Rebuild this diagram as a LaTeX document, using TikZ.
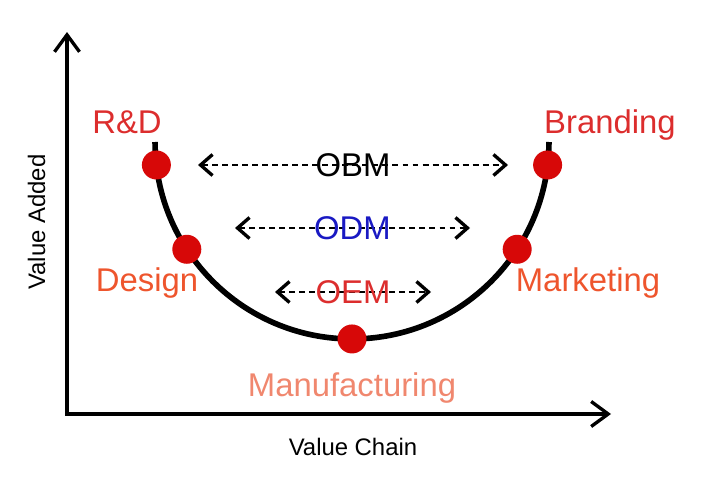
\documentclass[tikz,border=0pt]{standalone}
\usepackage{fontspec}
\setmainfont{Liberation Sans}
\usetikzlibrary{arrows.meta,calc}
\definecolor{dotred}{RGB}{215,8,8}
\definecolor{lblred}{RGB}{220,45,45}
\definecolor{lblorange}{RGB}{238,85,45}
\definecolor{lblsalmon}{RGB}{240,135,110}
\definecolor{odmblue}{RGB}{25,25,195}

\begin{document}
\begin{tikzpicture}[x=0.02cm,y=-0.02cm]
  \tikzstyle{every node}=[inner sep=0pt, font=\fontsize{18.7}{22}\selectfont]
  \tikzstyle{dot}=[circle, fill=dotred, minimum size=0.58cm]
  \tikzstyle{stage}=[anchor=base]
  \tikzstyle{axislabel}=[font=\fontsize{13.6}{16}\selectfont]

  \useasboundingbox (0,0) rectangle (710,480);

  % axes
  \coordinate (Ytip) at (67,32);
  \coordinate (Origin) at (67,414);
  \coordinate (Xtip) at (611,414);
  \draw[line width=1.9pt, {Straight Barb[length=3.4mm,width=5mm]}-{Straight Barb[length=3.4mm,width=5mm]}]
    (Ytip) -- (Origin) -- (Xtip);
  \node[axislabel, anchor=base] (xlabel) at (353,455) {Value Chain};
  \node[axislabel, anchor=base, rotate=90] (ylabel) at (45,222) {Value Added};

  % smile curve
  \coordinate (c) at (352,142);
  \draw[line width=3.2pt] ($(c)+(180:3.94cm)$) arc[start angle=180, end angle=360, radius=3.94cm];

  \node[dot] (RD) at ($(c)+(186.7:3.94cm)$) {};
  \node[dot] (Design) at ($(c)+(213:3.94cm)$) {};
  \node[dot] (Mfg) at ($(c)+(270:3.94cm)$) {};
  \node[dot] (Mkt) at ($(c)+(327:3.94cm)$) {};
  \node[dot] (Brand) at ($(c)+(353.3:3.94cm)$) {};

  % stage labels
  \node[stage, text=lblred] (RDlabel) at (127,133) {R\&D};
  \node[stage, text=lblred] (Brandlabel) at (610,133) {Branding};
  \node[stage, text=lblorange] (Designlabel) at (147,291) {Design};
  \node[stage, text=lblorange] (Mktlabel) at (588,291) {Marketing};
  \node[stage, text=lblsalmon] (Mfglabel) at (352,396) {Manufacturing};

  % OBM / ODM / OEM spans
  \coordinate (obmL) at (198,165);
  \coordinate (obmR) at (508,165);
  \coordinate (odmL) at (235,228);
  \coordinate (odmR) at (470,228);
  \coordinate (oemL) at (275,292);
  \coordinate (oemR) at (431,292);

  \begin{scope}[line width=1.35pt, dash pattern=on 3.4pt off 2.3pt,
      {Straight Barb[length=2.4mm,width=4.2mm,line width=1.9pt]}-{Straight Barb[length=2.4mm,width=4.2mm,line width=1.9pt]}]
    \draw (obmL) -- node[midway] (OBM) {OBM} (obmR);
    \draw (odmL) -- node[midway, text=odmblue] (ODM) {ODM} (odmR);
    \draw (oemL) -- node[midway, text=lblred] (OEM) {OEM} (oemR);
  \end{scope}
\end{tikzpicture}
\end{document}
